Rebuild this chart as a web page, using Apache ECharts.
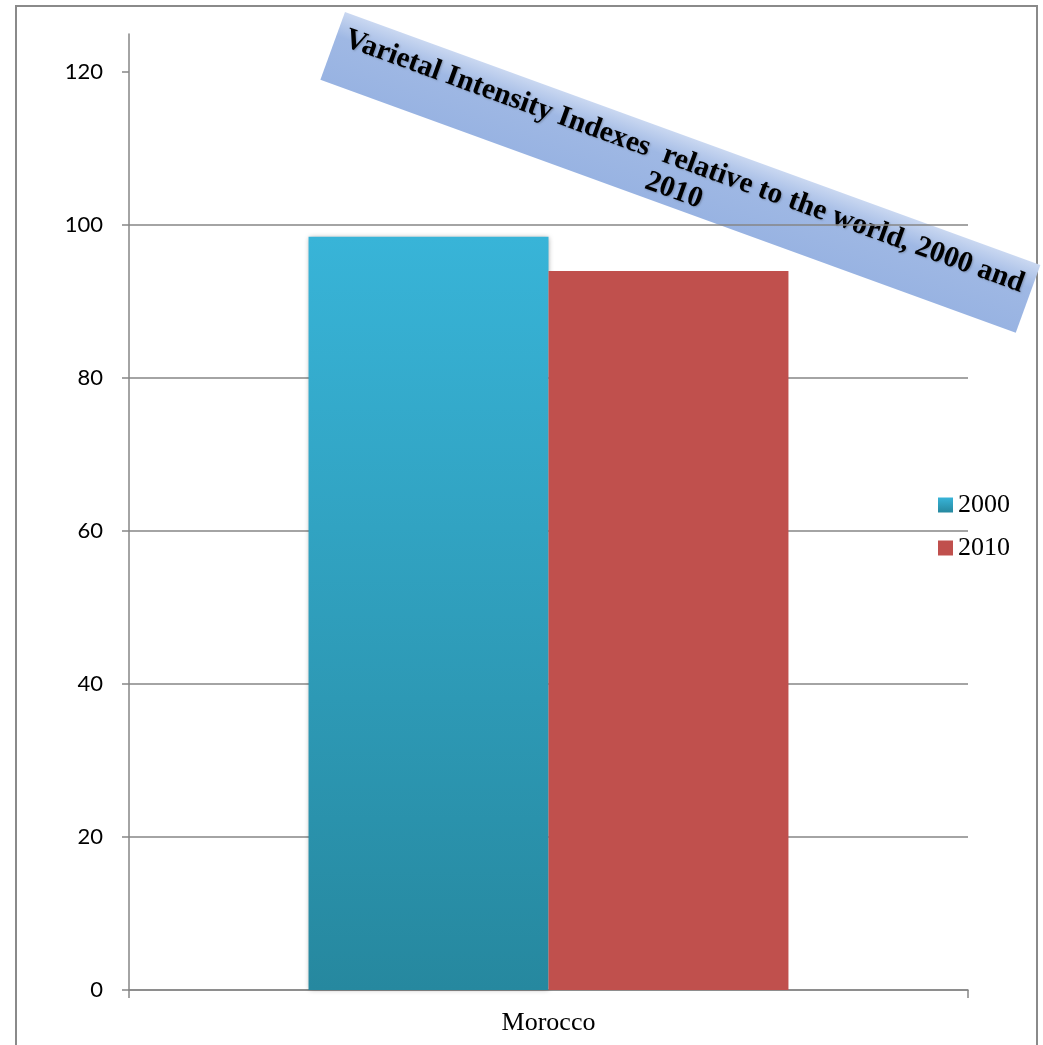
<!DOCTYPE html>
<html>
<head>
<meta charset="utf-8">
<script src="https://cdn.jsdelivr.net/npm/echarts@6/dist/echarts.min.js"></script>
<style>html,body{margin:0;padding:0;background:#fff;}#c{width:1043px;height:1045px;}</style>
</head>
<body>
<div id="c"></div>
<script>
const categories = ['Morocco'];
const seriesNames = ['2000', '2010'];
const values2000 = [98.5];
const values2010 = [94.0];
const yTicks = [0, 20, 40, 60, 80, 100, 120];
const titleText = 'Varietal Intensity Indexes  relative to the world, 2000 and\n2010';

const chart = echarts.init(document.getElementById('c'));
const axisGray = '#868686';
const option = {
  animation: false,
  backgroundColor: '#ffffff',
  grid: { left: 129, right: 75, top: 34, bottom: 55, containLabel: false },
  legend: {
    orient: 'vertical',
    left: 938,
    top: 492,
    padding: 0,
    itemGap: 17,
    itemWidth: 15,
    itemHeight: 15,
    icon: 'rect',
    data: seriesNames,
    textStyle: { fontFamily: '"Liberation Serif", "Times New Roman", serif', fontSize: 26, color: '#000', lineHeight: 26 }
  },
  xAxis: {
    type: 'category',
    data: categories,
    axisLine: { lineStyle: { color: axisGray, width: 1.5 } },
    axisTick: { show: true, length: 8, lineStyle: { color: axisGray, width: 1.5 } },
    axisLabel: { margin: 20, color: '#000', fontFamily: '"Liberation Serif", "Times New Roman", serif', fontSize: 26 },
    splitLine: { show: false }
  },
  yAxis: {
    type: 'value',
    min: 0,
    max: 125,
    interval: 20,
    axisLine: { show: true, lineStyle: { color: axisGray, width: 1.5 } },
    axisTick: { show: true, length: 7, customValues: yTicks, lineStyle: { color: axisGray, width: 1.5 } },
    axisLabel: { margin: 26, customValues: yTicks, color: '#000', fontFamily: 'Lato, "Open Sans", sans-serif', fontSize: 22 },
    splitLine: { show: true, showMaxLine: false, lineStyle: { color: axisGray, width: 1.5 } }
  },
  series: [
    {
      name: seriesNames[0],
      type: 'bar',
      data: values2000,
      barGap: '0%',
      barCategoryGap: '42.8%',
      itemStyle: {
        color: new echarts.graphic.LinearGradient(0, 0, 0, 1, [
          { offset: 0, color: '#38b4d8' },
          { offset: 1, color: '#26889f' }
        ]),
        shadowColor: 'rgba(0,0,0,0.35)',
        shadowBlur: 5
      }
    },
    {
      name: seriesNames[1],
      type: 'bar',
      data: values2010,
      barGap: '0%',
      barCategoryGap: '42.8%',
      itemStyle: { color: '#c0504d' }
    }
  ],
  graphic: [
    {
      type: 'rect',
      z: -10,
      silent: true,
      shape: { x: 16, y: 6, width: 1021, height: 1100 },
      style: { fill: 'none', stroke: '#8a8a8a', lineWidth: 2 }
    },
    {
      type: 'group',
      x: 345,
      y: 12,
      rotation: -20 * Math.PI / 180,
      z: 100,
      children: [
        {
          type: 'rect',
          shape: { x: 0, y: 0, width: 740, height: 72 },
          style: {
            fill: new echarts.graphic.LinearGradient(0, 0, 0, 1, [
              { offset: 0, color: '#cad8f1' },
              { offset: 0.35, color: '#9fb8e4' },
              { offset: 1, color: '#98b3e2' }
            ])
          }
        },
        {
          type: 'text',
          style: {
            text: titleText,
            x: 370,
            y: 40,
            align: 'center',
            verticalAlign: 'middle',
            fontFamily: '"Liberation Serif", "Times New Roman", serif',
            fontWeight: 'bold',
            fontSize: 29.5,
            lineHeight: 31,
            fill: '#000',
            textShadowColor: 'rgba(0,0,0,0.22)',
            textShadowBlur: 2,
            textShadowOffsetX: 1,
            textShadowOffsetY: 1
          }
        }
      ]
    }
  ]
};
chart.setOption(option);
</script>
</body>
</html>
